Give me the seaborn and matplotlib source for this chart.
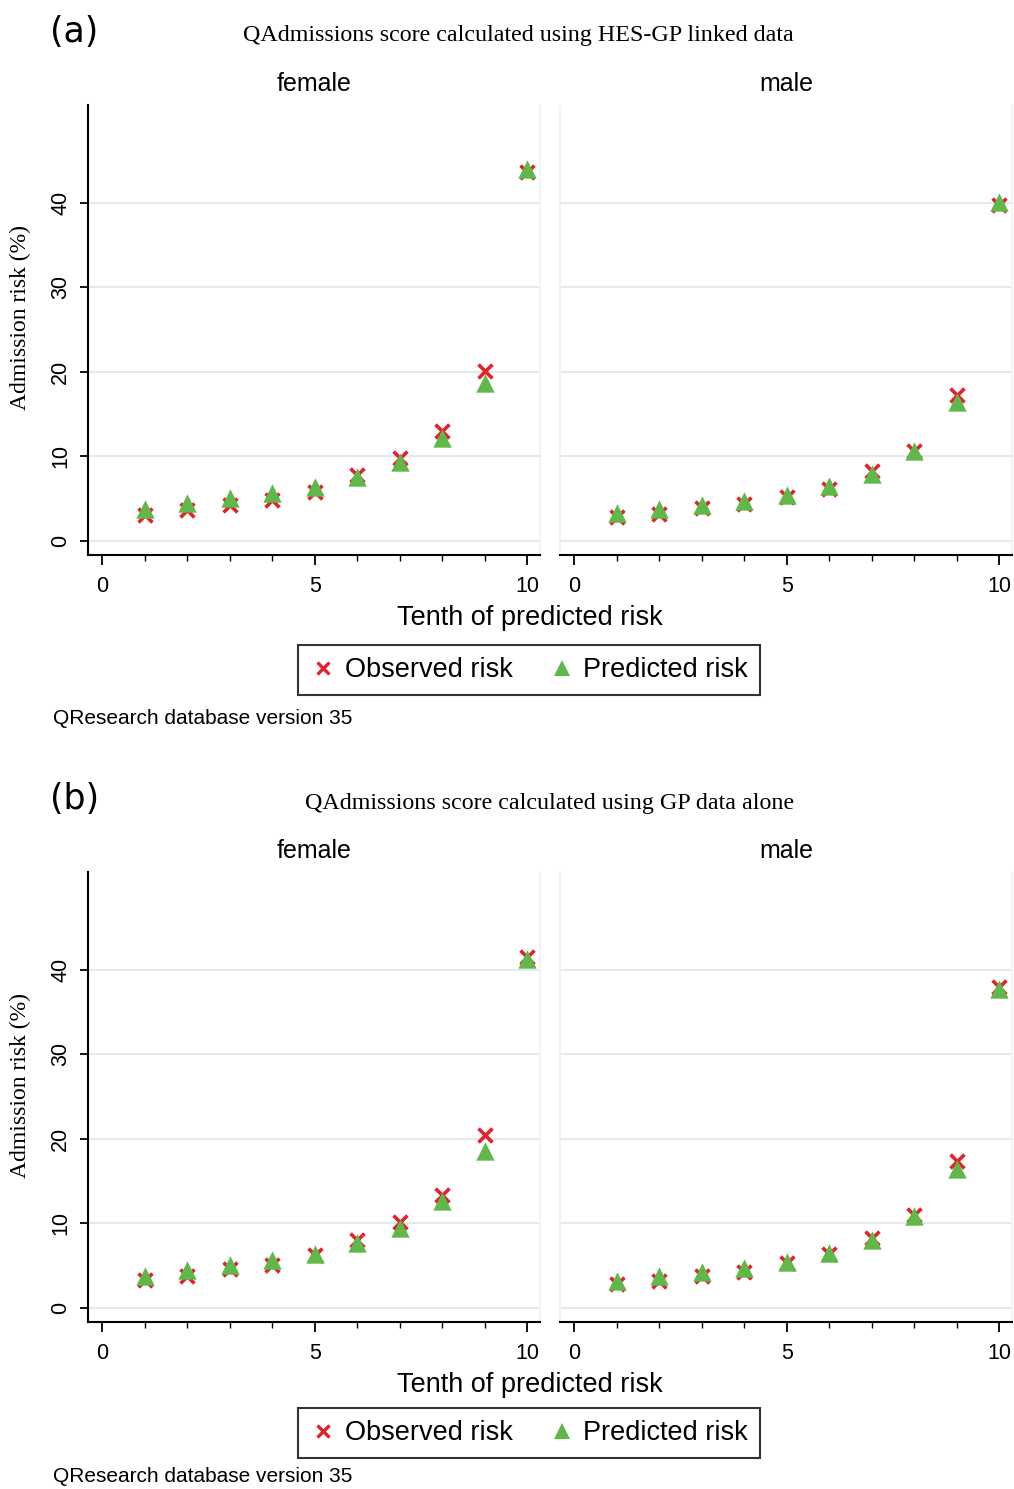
import numpy as np
import pandas as pd
import matplotlib
matplotlib.use("Agg")
import matplotlib.pyplot as plt
from matplotlib.lines import Line2D
from matplotlib.ticker import MultipleLocator
import seaborn as sns

# ---- data ----
deciles = [1, 2, 3, 4, 5, 6, 7, 8, 9, 10]

a_female_observed = [3.0, 3.6, 4.2, 4.8, 5.8, 7.8, 9.8, 13.0, 20.1, 43.7]
a_female_predicted = [3.7, 4.4, 5.0, 5.6, 6.4, 7.5, 9.3, 12.2, 18.7, 44.0]
a_male_observed = [2.8, 3.2, 3.9, 4.3, 5.2, 6.1, 8.2, 10.6, 17.2, 39.7]
a_male_predicted = [3.3, 3.8, 4.2, 4.7, 5.4, 6.5, 7.9, 10.6, 16.4, 40.1]

b_female_observed = [3.3, 3.8, 4.6, 5.1, 6.2, 8.0, 10.1, 13.4, 20.5, 41.5]
b_female_predicted = [3.8, 4.5, 5.1, 5.6, 6.4, 7.7, 9.4, 12.6, 18.6, 41.3]
b_male_observed = [2.8, 3.2, 3.8, 4.2, 5.3, 6.4, 8.3, 11.0, 17.4, 38.0]
b_male_predicted = [3.2, 3.8, 4.2, 4.7, 5.4, 6.5, 8.0, 10.8, 16.4, 37.7]

panel_labels = ["(a)", "(b)"]
panel_titles = ["QAdmissions score calculated using HES-GP linked data",
                "QAdmissions score calculated using GP data alone"]
sexes = ["female", "male"]
y_ticks = [0, 10, 20, 30, 40]
x_ticks = [0, 5, 10]

rows = []
for panel, vals in zip(["a", "b"], [
        (a_female_observed, a_female_predicted, a_male_observed, a_male_predicted),
        (b_female_observed, b_female_predicted, b_male_observed, b_male_predicted)]):
    fo, fp, mo, mp = vals
    for sex, obs, pred in [("female", fo, fp), ("male", mo, mp)]:
        for d, o, p in zip(deciles, obs, pred):
            rows.append(dict(panel=panel, sex=sex, decile=d, risk=o, kind="Observed risk"))
            rows.append(dict(panel=panel, sex=sex, decile=d, risk=p, kind="Predicted risk"))
df = pd.DataFrame(rows)

# ---- style ----
sns.set_theme(style="white")
plt.rcParams["font.family"] = ["Liberation Sans", "DejaVu Sans"]
plt.rcParams["text.color"] = "black"
plt.rcParams["xtick.color"] = "black"
plt.rcParams["ytick.color"] = "black"
plt.rcParams["axes.labelcolor"] = "black"

RED = "#e3222b"
GREEN = "#5fb849"
GRID = "#e1ebee"
FAINT = "#f2f2f2"

W, H = 1014, 1489
fig = plt.figure(figsize=(W / 100, H / 100), dpi=100)

def fx(px):
    return px / W

def fy(py):
    return 1 - py / H

offsets = [0, 767]  # vertical pixel offset of panel (b)
note_y = [719, 1477]
legend_y = [670, 1433]

for i, panel in enumerate(["a", "b"]):
    off = offsets[i]
    top, bottom = 105 + off, 555 + off
    fig.text(fx(50), fy(32 + off), panel_labels[i], fontsize=25,
             ha="left", va="center", family=["DejaVu Sans"])
    fig.text(fx(518) if i == 0 else fx(550), fy(36 + off), panel_titles[i], fontsize=17.3,
             ha="center", va="center", family=["Liberation Serif"])
    fig.text(fx(20), fy((top + bottom) / 2 - 12), "Admission risk (%)", rotation=90,
             fontsize=17, ha="center", va="center", family=["Liberation Serif"])
    fig.text(fx(530), fy(618 + off), "Tenth of predicted risk", fontsize=19.5,
             ha="center", va="center")
    fig.text(fx(53), fy(note_y[i]), "QResearch database version 35", fontsize=15,
             ha="left", va="center")

    for j, sex in enumerate(sexes):
        left, right = (88, 540) if j == 0 else (560, 1012)
        ax = fig.add_axes([fx(left), fy(bottom), fx(right - left), (bottom - top) / H])
        sub = df[(df.panel == panel) & (df.sex == sex)]
        sns.scatterplot(data=sub[sub.kind == "Observed risk"], x="decile", y="risk",
                        marker="x", color=RED, s=100, linewidth=2.6, ax=ax, zorder=3,
                        legend=False)
        sns.scatterplot(data=sub[sub.kind == "Predicted risk"], x="decile", y="risk",
                        marker="^", color=GREEN, s=175, linewidth=0, ax=ax, zorder=4,
                        legend=False)
        ax.set_xlim(-0.33, 10.3)
        ax.set_ylim(-1.7, 51.6)
        ax.set_xlabel("")
        ax.set_ylabel("")
        ax.set_xticks(x_ticks)
        ax.xaxis.set_minor_locator(MultipleLocator(1))
        ax.tick_params(axis="x", which="major", length=7, width=1.3, color="black",
                       labelsize=15.5, pad=8, bottom=True)
        ax.tick_params(axis="x", which="minor", length=4, width=1.0, color="black",
                       bottom=True)
        ax.set_yticks(y_ticks)
        for yv in y_ticks:
            ax.axhline(yv, color=GRID, lw=1.4, zorder=1)
        ax.grid(False)
        for s in ["top", "right", "left", "bottom"]:
            ax.spines[s].set_visible(True)
        ax.spines["bottom"].set_color("black")
        ax.spines["bottom"].set_linewidth(1.5)
        ax.spines["top"].set_visible(False)
        ax.spines["right"].set_color(FAINT)
        if j == 0:
            ax.spines["left"].set_color("black")
            ax.spines["left"].set_linewidth(1.5)
            ax.tick_params(axis="y", length=6, width=1.3, color="black", labelsize=15.5,
                           left=True, pad=6)
            for lab in ax.get_yticklabels():
                lab.set_rotation(90)
                lab.set_va("center")
        else:
            ax.spines["left"].set_color(FAINT)
            ax.set_yticklabels([])
            ax.tick_params(axis="y", left=False)
        ax.set_title(sex, fontsize=18, pad=10)

    handles = [
        Line2D([], [], marker="x", color=RED, linestyle="none", markersize=9,
               markeredgewidth=2.4),
        Line2D([], [], marker="^", color=GREEN, linestyle="none", markersize=12,
               markeredgewidth=0),
    ]
    leg = fig.legend(handles, ["Observed risk", "Predicted risk"], ncol=2,
                     loc="center", bbox_to_anchor=(fx(529), fy(legend_y[i])),
                     fontsize=19.5, frameon=True, fancybox=False, edgecolor="black",
                     handletextpad=0.3, columnspacing=1.3, borderpad=0.45,
                     handlelength=1.0)
    leg.get_frame().set_linewidth(1.5)

fig.savefig("out.png", dpi=100, facecolor="white")
